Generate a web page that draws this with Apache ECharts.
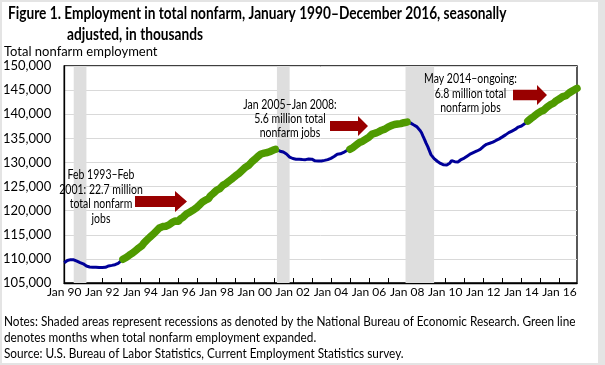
<!DOCTYPE html>
<html><head><meta charset="utf-8">
<script src="https://cdn.jsdelivr.net/npm/echarts@6/dist/echarts.min.js"></script>
<style>
html,body{margin:0;padding:0;background:#fff;}
#frame{position:absolute;left:0;top:0;width:605px;height:365px;background:#e4e4e4;}
#paper{position:absolute;left:2px;top:2px;width:596px;height:361px;background:#fff;}
#chart{position:absolute;left:0;top:0;width:605px;height:365px;}
</style></head><body>
<div id="frame"><div id="paper"></div></div>
<div id="chart"></div>
<script>
// ---- data ----
const startYear = 1990;
const endYear = 2016;
const monthNames = ['Jan','Feb','Mar','Apr','May','Jun','Jul','Aug','Sep','Oct','Nov','Dec'];

// Total nonfarm employment, thousands, seasonally adjusted
const employment1990s = [
  109199,109448,109660,109694,109845,109858,109819,109610,109542,109378,109239,109160,
  108971,108710,108520,108370,108330,108320,108270,108260,108290,108270,108220,108180,
  108200,108160,108250,108410,108530,108590,108660,108740,108800,108970,109090,109320,
  109650,109930,109980,110290,110570,110760,111030,111190,111440,111720,111980,112270,
  112550,112740,113200,113550,113880,114190,114520,114750,115100,115320,115750,116030,
  116420,116510,116700,116790,116770,117000,117050,117310,117560,117720,117850,117990,
  117800,118230,118500,118670,119010,119300,119500,119690,119850,120080,120330,120510,
  120840,121120,121440,121760,121930,122200,122490,122510,123030,123300,123610,123920,
  124240,124420,124580,124870,125270,125480,125650,125970,126180,126390,126680,127040,
  127230,127600,127720,128110,128340,128630,128960,129130,129350,129760,130050,130360
];
const employment2000s = [
  130620,130740,131230,131520,131750,131790,131940,131940,132070,132070,132290,132440,
  132620,132700,132660,132380,132320,132190,132150,131990,131750,131420,131120,130960,
  130820,130690,130680,130670,130680,130710,130620,130640,130580,130690,130720,130560,
  130680,130530,130340,130340,130320,130300,130320,130320,130430,130560,130580,130690,
  130850,130890,131230,131490,131700,131780,131800,131920,132080,132420,132480,132610,
  132740,132980,133110,133470,133640,133890,134150,134340,134410,134480,134830,134990,
  135270,135590,135870,136050,136060,136150,136350,136530,136690,136710,136910,137080,
  137320,137410,137640,137700,137860,137930,137970,137960,138050,138130,138240,138330,
  138370,138280,138200,137990,137810,137640,137430,137150,136690,136210,135440,134740,
  133950,133270,132450,131630,131280,130800,130460,130250,129980,129790,129770,129500
];
const employment2010s = [
  129520,129470,129640,129900,130380,130220,130160,130150,130100,130450,130600,130720,
  130900,131100,131350,131670,131780,132000,132090,132190,132380,132580,132710,132890,
  133300,133520,133760,133840,133980,134060,134210,134380,134560,134720,134890,135130,
  135300,135580,135720,135920,136180,136350,136510,136730,136840,137060,137340,137390,
  137560,137750,138000,138320,138570,138860,139110,139320,139590,139840,140120,140380,
  140550,140730,140820,141100,141430,141640,141920,142080,142230,142530,142810,143080,
  143180,143420,143640,143790,143830,144110,144400,144570,144820,145020,145200,145350
];

// NBER recessions (shaded)
const recessions = [['Jul 90','Mar 91'],['Mar 01','Nov 01'],['Dec 07','Jun 09']];
// Expansion periods highlighted in green
const expansions = [['Feb 93','Feb 01'],['Jan 05','Jan 08'],['May 14','Dec 16']];

const yTicks = {min:105000, max:150000, interval:5000};

// ---- build ----
const months = [];
for (let y = startYear; y <= endYear; y++) {
  for (let m = 0; m < 12; m++) months.push(monthNames[m] + ' ' + String(y).slice(2));
}
const employment = employment1990s.concat(employment2000s, employment2010s);
const greenData = employment.map((v, i) => {
  const inside = expansions.some(([a, b]) => i >= months.indexOf(a) && i <= months.indexOf(b));
  return inside ? v : '-';
});

const FONT = 'Lato, "Liberation Sans", Arial, sans-serif';
const chart = echarts.init(document.getElementById('chart'), null, {renderer:'canvas'});

function arrow(x0, x1, xh, yc, sh, hh) {
  return {
    type:'polygon', z:50,
    shape:{points:[[x0,yc-sh],[xh,yc-sh],[xh,yc-hh],[x1,yc],[xh,yc+hh],[xh,yc+sh],[x0,yc+sh]]},
    style:{fill:'#990000'}
  };
}
function txt(x, y, text, opts, sx) {
  return {type:'text', x:x, y:y, z:50, scaleX: sx || 1,
    style:Object.assign({text:text, fill:'#000', font:'13px ' + FONT, textVerticalAlign:'top'}, opts || {})};
}

chart.setOption({
  animation:false,
  backgroundColor:'transparent',
  grid:{left:60, right:28, top:66, bottom:82, show:true, borderColor:'#000', borderWidth:1.3, backgroundColor:'transparent'},
  xAxis:{
    type:'category', data:months, boundaryGap:false,
    axisLine:{lineStyle:{color:'#000', width:1.3}},
    axisTick:{inside:true, length:5, lineStyle:{color:'#000'}, interval:(i)=> i % 12 === 0},
    axisLabel:{interval:(i)=> i % 24 === 0, color:'#000', fontFamily:FONT, fontSize:12, margin:3,
      hideOverlap:false, showMinLabel:true},
    splitLine:{show:false}
  },
  yAxis:{
    type:'value', min:yTicks.min, max:yTicks.max, interval:yTicks.interval,
    axisLine:{show:true, lineStyle:{color:'#000', width:1.3}},
    axisTick:{show:false},
    axisLabel:{color:'#000', fontFamily:FONT, fontSize:13, margin:13,
      formatter:(v)=> v.toLocaleString('en-US')},
    splitLine:{lineStyle:{color:'#d9d9d9', width:1}}
  },
  series:[
    {type:'line', data:[], z:1, silent:true,
      markArea:{silent:true, itemStyle:{color:'#dedede'},
        data:recessions.map(([a,b])=>[{xAxis:a},{xAxis:b}])}},
    {type:'line', data:employment, z:3, showSymbol:false, symbol:'none',
      lineStyle:{color:'#000099', width:3}},
    {type:'line', data:greenData, z:4, showSymbol:false, symbol:'none', connectNulls:false,
      lineStyle:{color:'#4f9a00', width:7.5, cap:'round', join:'round'}}
  ],
  graphic:[
    txt(8, 5, 'Figure 1. Employment in total nonfarm, January 1990–December 2016, seasonally', {font:'bold 16.5px ' + FONT}, 0.83),
    txt(67, 26, 'adjusted, in thousands', {font:'bold 16.5px ' + FONT}, 0.83),
    txt(4, 45, 'Total nonfarm employment'),
    txt(101, 168, 'Feb 1993–Feb\n2001: 22.7 million\ntotal nonfarm\njobs', {textAlign:'center', lineHeight:14.5, font:'12.5px ' + FONT}, 0.84),
    txt(290, 98, 'Jan 2005–Jan 2008:\n5.6 million total\nnonfarm jobs', {textAlign:'center', lineHeight:14, font:'12.5px ' + FONT}, 0.84),
    txt(470.5, 72, 'May 2014–ongoing:\n6.8 million total\nnonfarm jobs', {textAlign:'center', lineHeight:14.5, font:'12.5px ' + FONT}, 0.84),
    arrow(135, 187, 175, 201.5, 5.5, 10.5),
    arrow(330, 368, 358, 126, 5, 10),
    arrow(513, 547, 537, 95, 5.3, 10),
    txt(4, 314, 'Notes: Shaded areas represent recessions as denoted by the National Bureau of Economic Research. Green line\ndenotes months when total nonfarm employment expanded.\nSource: U.S. Bureau of Labor Statistics, Current Employment Statistics survey.', {lineHeight:16}, 0.907)
  ]
});
</script>
</body></html>
